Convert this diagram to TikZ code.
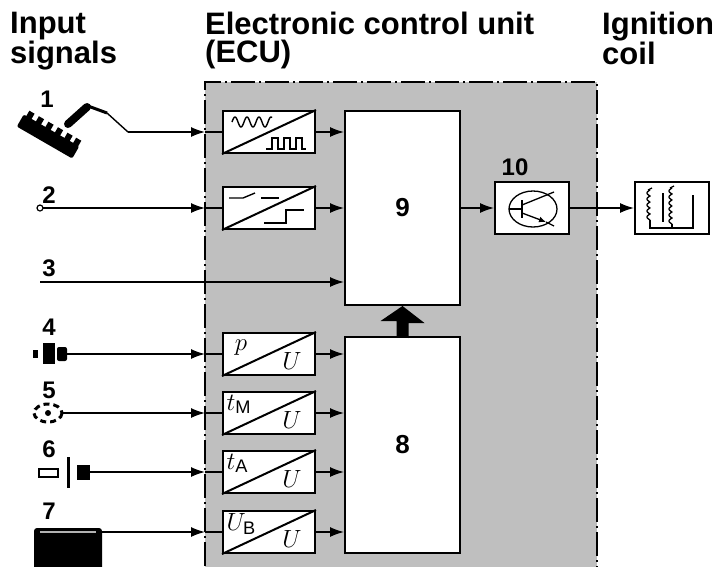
\documentclass[tikz,border=0pt]{standalone}
\usepackage{fontspec}
\setmainfont{Liberation Sans}
\usetikzlibrary{arrows.meta,calc}
\tikzset{
  conv/.style={draw, line width=2pt, fill=white, minimum width=92pt, minimum height=42pt, inner sep=0pt},
  cublock/.style={draw, line width=2pt, fill=white, inner sep=0pt, font=\fontsize{26}{26}\selectfont\bfseries},
  sig/.style={line width=1.4pt, -{Latex[length=14pt,width=10pt]}},
  wire/.style={line width=1.4pt},
  numlabel/.style={font=\fontsize{24}{24}\selectfont\bfseries, inner sep=0pt},
  head/.style={font=\fontsize{31}{28}\selectfont\bfseries, align=left, anchor=north west, inner sep=0pt},
  qty/.style={font=\fontsize{26}{26}\selectfont, inner sep=1pt},
}
\begin{document}
\begin{tikzpicture}[x=1pt,y=-1pt]
    \clip (0,0) rectangle (723,566);
    \fill[white] (0,0) rectangle (723,566);

    \draw[fill=black!25, line width=2pt, dash pattern=on 24pt off 4pt on 2pt off 4pt] (205,600) -- (205,82) -- (597,82) -- (597,600);
    \coordinate (ecuw) at (205,82);

    \node[head] (hin) at (10,12) {Input\\signals};
    \node[head] (hecu) at (205,12) {Electronic control unit\\(ECU)};
    \node[head] (hign) at (602,12) {Ignition\\coil};

    \foreach \n/\y in {1/132, 2/208, 4/354, 5/413, 6/472, 7/532} {
        \node[conv] (conv\n) at (269,\y) {};
        \draw[line width=2pt] (conv\n.south west) -- (conv\n.north east);
    }

    \node[cublock, minimum width=115pt, minimum height=194pt] (cu9) at (402.5,208) {9};
    \node[cublock, minimum width=115pt, minimum height=216pt] (cu8) at (402.5,445) {8};
    \node[cublock, minimum width=74pt, minimum height=52pt] (ign10) at (532,208) {};
    \node[numlabel] (n10) at (515,167) {10};
    \node[cublock, minimum width=74pt, minimum height=52pt] (coil) at (672,208) {};

    \fill (cu8.north) ++(-6,0) -- ++(0,-15) -- ++(-16,0) -- (cu9.south) -- ++(22,17) -- ++(-16,0) -- ++(0,15) -- cycle;

    % sensors
    \begin{scope}[shift={(50,133)}, rotate=-30]
        \fill[rounded corners=2pt] (-32,-3) rectangle (32,11);
        \foreach \k in {-29,-18,-7,4,15,25} \fill (\k,-9) rectangle ++(6,7);
    \end{scope}
    \draw[line width=8pt, line cap=round] (68,124) -- (87,107);
    \draw[line width=3pt] (88,106) -- (107,113);
    \coordinate (s1) at (128,132);
    \draw[wire] (107,113) -- (s1);

    \coordinate (s2) at (43,208);
    \draw[line width=1.2pt] (40,208) circle [radius=3];

    \coordinate (s3) at (40,282);

    \fill (33,350) rectangle (38,358);
    \fill (43,343) rectangle (55,364);
    \fill[rounded corners=2pt] (57,347) rectangle (67,361);
    \coordinate (s4) at (67,354);

    \draw[line width=3pt, dash pattern=on 6pt off 4pt] (48,413) ellipse [x radius=14, y radius=9];
    \fill (48,413) circle [radius=3];
    \coordinate (s5) at (62,413);

    \draw[line width=2.5pt, fill=white] (39,469) rectangle (58,477);
    \draw[line width=3pt] (68,457) -- (68,488);
    \fill (77,465) rectangle (90,480);
    \coordinate (s6) at (90,472);

    \fill[rounded corners=3pt] (34,528) rectangle (102,575);
    \draw[gray!60, line width=1.5pt] (40,532) -- (96,532);
    \coordinate (s7) at (102,532);

    \foreach \n/\x/\y in {1/47/99, 2/49/195, 3/49/268, 4/49/327, 5/49/390, 6/49/449, 7/49/511}
        \node[numlabel] (n\n) at (\x,\y) {\n};

    % connections
    \foreach \n/\blk in {1/cu9, 2/cu9, 4/cu8, 5/cu8, 6/cu8, 7/cu8} {
        \draw[sig] (s\n) -- (s\n -| ecuw);
        \draw[wire] (s\n -| ecuw) -- (conv\n.west);
        \draw[sig] (conv\n.east) -- (conv\n.east -| \blk.west);
    }
    \draw[sig] (s3) -- (s3 -| cu9.west);
    \draw[sig] (cu9.east |- ign10) -- (ign10.west);
    \draw[sig] (ign10.east) -- (coil.west);

    % converter symbols
    \begin{scope}[shift={(conv1.north west)}, line width=1.4pt]
        \draw plot[domain=0:40, samples=80, smooth] ({10+\x}, {12-5*sin(\x*30)});
        \draw (44,39) -- (50,39) -- (50,28) -- (56,28) -- (56,39) -- (62,39) -- (62,28) -- (68,28) -- (68,39) -- (74,39) -- (74,28) -- (80,28) -- (80,39) -- (84,39);
    \end{scope}
    \begin{scope}[shift={(conv2.north west)}, line width=1.4pt]
        \draw (7,12) -- (21,12) -- (33,7);
        \draw (39,12) -- (57,12);
        \draw (42,37) -- (64,37) -- (64,24) -- (82,24);
    \end{scope}
    \node[qty] (p4) at ($(conv4.north west)+(19,16)$) {$p$};
    \foreach \n/\q in {5/$t_{\mathrm{M}}$, 6/$t_{\mathrm{A}}$, 7/$U_{\mathrm{B}}$}
        \node[qty, fill=white, anchor=north west, inner sep=0.5pt] (q\n) at ($(conv\n.north west)+(4,3)$) {\q};
    \foreach \n in {4,5,6,7}
        \node[qty] (u\n) at ($(conv\n.north west)+(70,29)$) {$U$};

    % transistor
    \begin{scope}[shift={(ign10.center)}, line width=1.3pt]
        \draw (1,1) ellipse [x radius=24, y radius=18];
        \draw (-23,1) -- (-10,1);
        \draw[line width=1.8pt] (-10,-8) -- (-10,10);
        \draw (-10,-3) -- (22,-16);
        \draw[-{Latex[length=7pt,width=6pt]}] (-10,5) -- (14,14);
        \draw (14,14) -- (22,18);
    \end{scope}

    % coil
    \begin{scope}[shift={(coil.center)}, line width=1.3pt]
        \draw plot[domain=0:900, samples=120] ({-22-3*abs(sin(\x))}, {-18+\x/30});
        \draw plot[domain=0:1080, samples=140] ({0-3*abs(sin(\x))}, {-20+\x/30});
        \draw (-24,-18) -- (-20,-20);
        \draw (-2,-20) -- (2,-22);
        \draw (-9,-15) -- (-9,14);
        \draw (-22,12) -- (-22,20) -- (21,20) -- (21,-13);
        \draw (0,16) -- (0,20);
    \end{scope}
\end{tikzpicture}
\end{document}
